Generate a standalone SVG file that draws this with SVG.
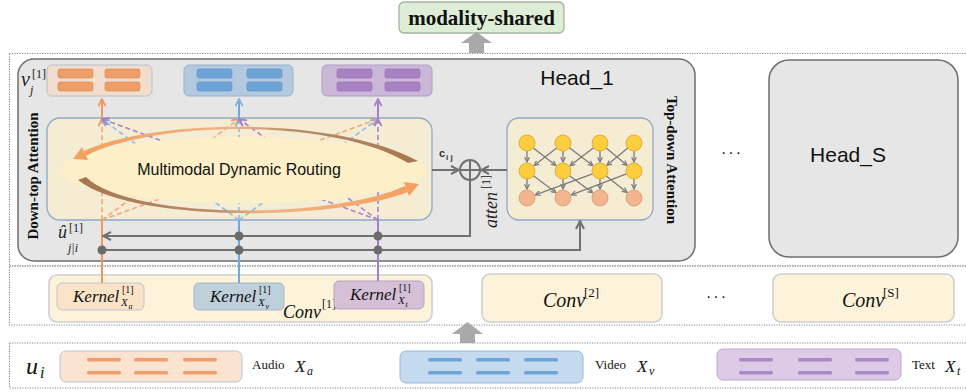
<svg xmlns="http://www.w3.org/2000/svg" width="966" height="392" viewBox="0 0 966 392">
<defs>
<style>
.frame{fill:none;stroke:#8a8a8a;stroke-width:1.2;stroke-dasharray:1.2 1.3}
.head{fill:#e6e6e6;stroke:#6e6e6e;stroke-width:1.5}
.panel{fill:#f5ecd4;stroke:#8fa9c6;stroke-width:1.3}
.conv{fill:#fdf3da;stroke:#cfcfcf;stroke-width:1.6}
.sans{font-family:"Liberation Sans",Arial,sans-serif}
.serif{font-family:"Liberation Serif","Times New Roman",serif}
.math{font-family:"Liberation Serif","Times New Roman",serif;font-style:italic}
.wire{fill:none;stroke:#717171;stroke-width:2}
.hub{fill:#6b6b6b}
.bigarrow{fill:#a9a9a9}
.o-solid{stroke:#ee9a5e;stroke-width:2;fill:none}
.b-solid{stroke:#6ea8dc;stroke-width:2;fill:none}
.p-solid{stroke:#a57fcb;stroke-width:2;fill:none}
.o-dash{stroke:#f2a877;stroke-width:1.6;stroke-dasharray:5 3;fill:none}
.b-dash{stroke:#8dbde6;stroke-width:1.6;stroke-dasharray:5 3;fill:none}
.p-dash{stroke:#a783d0;stroke-width:1.6;stroke-dasharray:5 3;fill:none}
.net{stroke:#7b7b7b;stroke-width:1.3;fill:none}
.n-y{fill:#fccd3e;stroke:#d8a52a;stroke-width:0.8}
.n-p{fill:#f3b58d;stroke:#d29872;stroke-width:0.8}
.bar-o{fill:#ee9f67;stroke:#c98b5e;stroke-width:0.6}
.bar-b{fill:#6fa4d8;stroke:#5d8fc0;stroke-width:0.6}
.bar-p{fill:#a882c4;stroke:#8f6aaf;stroke-width:0.6}
</style>
<marker id="ah-gray" viewBox="0 0 10 10" refX="9" refY="5" markerWidth="10" markerHeight="10" markerUnits="userSpaceOnUse" orient="auto">
  <path d="M1,1 L9,5 L1,9" fill="none" stroke="#717171" stroke-width="2"/>
</marker>
<marker id="ah-net" viewBox="0 0 10 10" refX="9" refY="5" markerWidth="6" markerHeight="6" markerUnits="userSpaceOnUse" orient="auto">
  <path d="M1,1 L9,5 L1,9" fill="none" stroke="#7b7b7b" stroke-width="2"/>
</marker>
<marker id="ah-o" viewBox="0 0 10 10" refX="9" refY="5" markerWidth="9" markerHeight="9" markerUnits="userSpaceOnUse" orient="auto">
  <path d="M1,1 L9,5 L1,9" fill="none" stroke="#ee9a5e" stroke-width="2"/>
</marker>
<marker id="ah-b" viewBox="0 0 10 10" refX="9" refY="5" markerWidth="9" markerHeight="9" markerUnits="userSpaceOnUse" orient="auto">
  <path d="M1,1 L9,5 L1,9" fill="none" stroke="#7fb3e2" stroke-width="2"/>
</marker>
<marker id="ah-p" viewBox="0 0 10 10" refX="9" refY="5" markerWidth="9" markerHeight="9" markerUnits="userSpaceOnUse" orient="auto">
  <path d="M1,1 L9,5 L1,9" fill="none" stroke="#a57fcb" stroke-width="2"/>
</marker>
<linearGradient id="arc-top" gradientUnits="userSpaceOnUse" x1="80" y1="0" x2="420" y2="0">
  <stop offset="0" stop-color="#f2a15e"/><stop offset="0.45" stop-color="#f0b386"/>
  <stop offset="0.62" stop-color="#b98e6a"/><stop offset="1" stop-color="#a5774f"/>
</linearGradient>
<linearGradient id="arc-bot" gradientUnits="userSpaceOnUse" x1="80" y1="0" x2="420" y2="0">
  <stop offset="0" stop-color="#a5774f"/><stop offset="0.4" stop-color="#b98e6a"/>
  <stop offset="0.55" stop-color="#f0b386"/><stop offset="1" stop-color="#f2a15e"/>
</linearGradient>
</defs>

<!-- dotted section frames -->
<g id="frames">
  <rect class="frame" x="9.5" y="53.5" width="962" height="212.5"/>
  <rect class="frame" x="9.5" y="266" width="962" height="59"/>
  <rect class="frame" x="9.5" y="343" width="962" height="45"/>
</g>

<!-- output -->
<g id="modality-shared">
  <rect x="399" y="2" width="165" height="31" rx="5" fill="#deedd6" stroke="#a3b39d" stroke-width="1.3"/>
  <text class="serif" x="481.5" y="25" font-size="21" font-weight="bold" text-anchor="middle" fill="#111">modality-shared</text>
</g>

<!-- attention head 1 -->
<g id="head-1">
  <rect class="head" x="18" y="59" width="677" height="202" rx="16"/>
  <text class="sans" x="577" y="85" font-size="21" text-anchor="middle" fill="#111">Head_1</text>
  <text class="serif" transform="translate(38,176) rotate(-90)" font-size="15" font-weight="bold" text-anchor="middle" fill="#111">Down-top Attention</text>
  <text class="serif" transform="translate(667,160) rotate(90)" font-size="15" font-weight="bold" text-anchor="middle" fill="#111">Top-down Attention</text>
  <!-- v_j^[1] label -->
  <text class="math" x="21" y="86" font-size="20" fill="#222">v</text>
  <text class="serif" x="32" y="78" font-size="12" fill="#222">[1]</text>
  <text class="math" x="30" y="94" font-size="12" fill="#222">j</text>
  <!-- u-hat label -->
  <text class="math" x="58" y="238" font-size="18" fill="#222">û</text>
  <text class="serif" x="69" y="232" font-size="12" fill="#222">[1]</text>
  <text class="math" x="68" y="252" font-size="12" fill="#222">j|i</text>
</g>

<g id="v-audio">
  <rect x="47" y="65" width="105" height="31" rx="5" fill="#f2ddcc" stroke="#b5c0cf" stroke-width="1"/>
  <rect class="bar-o" x="58" y="69" width="35" height="9" rx="2"/>
  <rect class="bar-o" x="105" y="69" width="35" height="9" rx="2"/>
  <rect class="bar-o" x="58" y="82" width="35" height="9" rx="2"/>
  <rect class="bar-o" x="105" y="82" width="35" height="9" rx="2"/>
</g>
<g id="v-video">
  <rect x="184" y="65" width="109" height="31" rx="5" fill="#b3c9e0" stroke="#98b3d0" stroke-width="1"/>
  <rect class="bar-b" x="197" y="69" width="35" height="9" rx="2"/>
  <rect class="bar-b" x="247" y="69" width="35" height="9" rx="2"/>
  <rect class="bar-b" x="197" y="82" width="35" height="9" rx="2"/>
  <rect class="bar-b" x="247" y="82" width="35" height="9" rx="2"/>
</g>
<g id="v-text">
  <rect x="322" y="65" width="110" height="31" rx="5" fill="#cbb8d9" stroke="#ae9cc6" stroke-width="1"/>
  <rect class="bar-p" x="337" y="69" width="35" height="9" rx="2"/>
  <rect class="bar-p" x="385" y="69" width="35" height="9" rx="2"/>
  <rect class="bar-p" x="337" y="82" width="35" height="9" rx="2"/>
  <rect class="bar-p" x="385" y="82" width="35" height="9" rx="2"/>
</g>

<!-- multimodal dynamic routing block -->
<g id="routing">
  <rect class="panel" x="47" y="118" width="385" height="102" rx="13"/>
  <g id="routing-paths">
    <path class="o-dash" d="M102,220 V119" marker-end="url(#ah-o)"/>
    <path class="o-dash" d="M102,220 L239,119" marker-end="url(#ah-o)"/>
    <path class="o-dash" d="M102,220 L378,119" marker-end="url(#ah-o)"/>
    <path class="b-dash" d="M239,220 L102,119" marker-end="url(#ah-b)"/>
    <path class="b-dash" d="M239,220 V119" marker-end="url(#ah-b)"/>
    <path class="b-dash" d="M239,220 L378,119" marker-end="url(#ah-b)"/>
    <path class="p-dash" d="M378,220 L102,119" marker-end="url(#ah-p)"/>
    <path class="p-dash" d="M378,220 L239,119" marker-end="url(#ah-p)"/>
    <path class="p-dash" d="M378,220 V119" marker-end="url(#ah-p)"/>
  </g>
  <ellipse cx="243" cy="170" rx="183" ry="33" fill="#fdf0c9"/>
  <path d="M84,151 C150,120 330,114 418,161 L408,163 C330,116 150,122 86,156 Z" fill="url(#arc-top)"/>
  <polygon points="73,159 88,160 82,147" fill="#f2a15e"/>
  <path d="M78,180 C130,222 330,222 408,192 L405,186 C330,220 130,220 86,177 Z" fill="url(#arc-bot)"/>
  <polygon points="419,184 409,196 404,182" fill="#f2a15e"/>
  <text class="sans" x="239" y="175" font-size="16" text-anchor="middle" fill="#111">Multimodal Dynamic Routing</text>
</g>

<!-- top-down attention network -->
<g id="top-down">
  <rect class="panel" x="507" y="118" width="146" height="102" rx="12" fill="#f5eed9"/>
  <g id="net-edges">
    <path class="net" d="M527,151 V162" marker-end="url(#ah-net)"/>
    <path class="net" d="M563,151 V162" marker-end="url(#ah-net)"/>
    <path class="net" d="M600,151 V162" marker-end="url(#ah-net)"/>
    <path class="net" d="M634,151 V162" marker-end="url(#ah-net)"/>
    <path class="net" d="M533.3,147.9 L555.9,165.5" marker-end="url(#ah-net)"/>
    <path class="net" d="M556.7,147.9 L534.1,165.5" marker-end="url(#ah-net)"/>
    <path class="net" d="M569.4,147.8 L592.8,165.6" marker-end="url(#ah-net)"/>
    <path class="net" d="M593.6,147.8 L570.2,165.6" marker-end="url(#ah-net)"/>
    <path class="net" d="M606.2,148.1 L627.1,165.3" marker-end="url(#ah-net)"/>
    <path class="net" d="M627.8,148.1 L606.9,165.3" marker-end="url(#ah-net)"/>
    <path class="net" d="M527,179 V189" marker-end="url(#ah-net)"/>
    <path class="net" d="M563,179 V189" marker-end="url(#ah-net)"/>
    <path class="net" d="M600,179 V189" marker-end="url(#ah-net)"/>
    <path class="net" d="M634,179 V189" marker-end="url(#ah-net)"/>
    <path class="net" d="M533.4,175.8 L555.8,192.6" marker-end="url(#ah-net)"/>
    <path class="net" d="M569.5,175.7 L592.7,192.7" marker-end="url(#ah-net)"/>
    <path class="net" d="M592.5,173.8 L535.4,194.9" marker-end="url(#ah-net)"/>
    <path class="net" d="M606.3,176 L627,192.4" marker-end="url(#ah-net)"/>
    <path class="net" d="M626.5,173.8 L571.4,194.8" marker-end="url(#ah-net)"/>
  </g>
  <circle class="n-y" cx="527" cy="143" r="8"/><circle class="n-y" cx="563" cy="143" r="8"/>
  <circle class="n-y" cx="600" cy="143" r="8"/><circle class="n-y" cx="634" cy="143" r="8"/>
  <circle class="n-y" cx="527" cy="171" r="8"/><circle class="n-y" cx="563" cy="171" r="8"/>
  <circle class="n-y" cx="600" cy="171" r="8"/><circle class="n-y" cx="634" cy="171" r="8"/>
  <circle class="n-p" cx="527" cy="198" r="8"/><circle class="n-p" cx="563" cy="198" r="8"/>
  <circle class="n-p" cx="600" cy="198" r="8"/><circle class="n-p" cx="634" cy="198" r="8"/>
  <g transform="translate(497,228) rotate(-90)">
    <text class="math" x="0" y="0" font-size="18" fill="#222">atten</text>
    <text class="serif" x="39" y="-7" font-size="12" fill="#222">[1]</text>
  </g>
</g>

<!-- summation node -->
<g id="sum">
  <circle cx="470" cy="170" r="10" fill="none" stroke="#717171" stroke-width="2"/>
  <path d="M460,170 H480 M470,160 V180" stroke="#717171" stroke-width="2"/>
  <text class="sans" x="439" y="157" font-size="11" font-weight="bold" fill="#333">c</text>
  <text class="sans" x="446" y="160" font-size="8" font-weight="bold" fill="#333">i j</text>
</g>

<!-- further heads -->
<g id="head-s">
  <rect class="head" x="769" y="60" width="189" height="197" rx="20"/>
  <text class="sans" x="848" y="162" font-size="21" text-anchor="middle" fill="#111">Head_S</text>
</g>
<text class="sans" x="732" y="158" font-size="16" text-anchor="middle" letter-spacing="2" fill="#111">···</text>

<!-- convolution layers -->
<g id="conv-1">
  <rect class="conv" x="49" y="275" width="383" height="47" rx="8"/>
  <text class="math" x="283" y="318" font-size="18" fill="#111">Conv</text>
  <text class="serif" x="322" y="308" font-size="12" fill="#111">[1]</text>
</g>
<g id="kernel-xa">
  <rect x="57" y="283" width="87" height="27" rx="5" fill="#fbe3c8" stroke="#b9c6d6" stroke-width="1"/>
  <text class="math" x="73" y="302" font-size="17" fill="#111">Kernel</text>
  <text class="serif" x="122" y="293" font-size="10" fill="#111">[1]</text>
  <text class="math" x="121" y="306" font-size="11" fill="#111">X</text>
  <text class="math" x="128.5" y="308.5" font-size="8" fill="#111">a</text>
</g>
<g id="kernel-xv">
  <rect x="194" y="283" width="90" height="27" rx="5" fill="#bfd0da" stroke="#9fb8cc" stroke-width="1"/>
  <text class="math" x="210" y="302" font-size="17" fill="#111">Kernel</text>
  <text class="serif" x="259" y="293" font-size="10" fill="#111">[1]</text>
  <text class="math" x="258" y="306" font-size="11" fill="#111">X</text>
  <text class="math" x="265.5" y="308.5" font-size="8" fill="#111">v</text>
</g>
<g id="kernel-xt">
  <rect x="334" y="281" width="90" height="28" rx="5" fill="#d6c0d8" stroke="#b3a3c4" stroke-width="1"/>
  <text class="math" x="350" y="300" font-size="17" fill="#111">Kernel</text>
  <text class="serif" x="399" y="291" font-size="10" fill="#111">[1]</text>
  <text class="math" x="398" y="304" font-size="11" fill="#111">X</text>
  <text class="math" x="405.5" y="306.5" font-size="8" fill="#111">t</text>
</g>
<g id="conv-2">
  <rect class="conv" x="482" y="274" width="180" height="48" rx="8"/>
  <text class="math" x="543" y="307" font-size="20" fill="#111">Conv</text>
  <text class="serif" x="584" y="297" font-size="13" fill="#111">[2]</text>
</g>
<text class="sans" x="717" y="302" font-size="16" text-anchor="middle" letter-spacing="2" fill="#111">···</text>
<g id="conv-s">
  <rect class="conv" x="773" y="274" width="181" height="48" rx="8"/>
  <text class="math" x="842" y="307" font-size="20" fill="#111">Conv</text>
  <text class="serif" x="883" y="297" font-size="13" fill="#111">[S]</text>
</g>

<!-- inputs -->
<g id="input-u">
  <text class="math" x="26" y="374" font-size="24" fill="#111">u</text>
  <text class="math" x="40" y="378" font-size="16" fill="#111">i</text>
</g>
<g id="input-audio">
  <rect x="60" y="351" width="182" height="31" rx="6" fill="#fae3d1" stroke="#b8c3d3" stroke-width="1"/>
  <rect x="87" y="358" width="34" height="3.5" rx="1.5" fill="#eea06c"/>
  <rect x="134" y="358" width="34" height="3.5" rx="1.5" fill="#eea06c"/>
  <rect x="183" y="358" width="34" height="3.5" rx="1.5" fill="#eea06c"/>
  <rect x="87" y="371" width="34" height="3.5" rx="1.5" fill="#eea06c"/>
  <rect x="134" y="371" width="34" height="3.5" rx="1.5" fill="#eea06c"/>
  <rect x="183" y="371" width="34" height="3.5" rx="1.5" fill="#eea06c"/>
  <text class="serif" x="252" y="369" font-size="13" fill="#111">Audio</text>
  <text class="math" x="295" y="372" font-size="17" fill="#111">X</text>
  <text class="math" x="307" y="375" font-size="12" fill="#111">a</text>
</g>
<g id="input-video">
  <rect x="400" y="351" width="183" height="32" rx="6" fill="#c4daef" stroke="#9cb9d8" stroke-width="1"/>
  <rect x="428" y="358" width="34" height="3.5" rx="1.5" fill="#6ea3d8"/>
  <rect x="476" y="358" width="34" height="3.5" rx="1.5" fill="#6ea3d8"/>
  <rect x="524" y="358" width="34" height="3.5" rx="1.5" fill="#6ea3d8"/>
  <rect x="428" y="371" width="34" height="3.5" rx="1.5" fill="#6ea3d8"/>
  <rect x="476" y="371" width="34" height="3.5" rx="1.5" fill="#6ea3d8"/>
  <rect x="524" y="371" width="34" height="3.5" rx="1.5" fill="#6ea3d8"/>
  <text class="serif" x="595" y="369" font-size="13" fill="#111">Video</text>
  <text class="math" x="637" y="372" font-size="17" fill="#111">X</text>
  <text class="math" x="649" y="375" font-size="12" fill="#111">v</text>
</g>
<g id="input-text">
  <rect x="717" y="349" width="184" height="31" rx="6" fill="#ddcae7" stroke="#baa8cc" stroke-width="1"/>
  <rect x="739" y="358" width="34" height="3.5" rx="1.5" fill="#a98ac6"/>
  <rect x="798" y="358" width="34" height="3.5" rx="1.5" fill="#a98ac6"/>
  <rect x="855" y="358" width="34" height="3.5" rx="1.5" fill="#a98ac6"/>
  <rect x="739" y="371" width="34" height="3.5" rx="1.5" fill="#a98ac6"/>
  <rect x="798" y="371" width="34" height="3.5" rx="1.5" fill="#a98ac6"/>
  <rect x="855" y="371" width="34" height="3.5" rx="1.5" fill="#a98ac6"/>
  <text class="serif" x="912" y="369" font-size="13" fill="#111">Text</text>
  <text class="math" x="945" y="372" font-size="17" fill="#111">X</text>
  <text class="math" x="957" y="375" font-size="12" fill="#111">t</text>
</g>

<!-- connectors -->
<g id="connectors">
  <polygon class="bigarrow" points="469,53 469,43 461,43 476.5,32 492,43 484,43 484,53"/>
  <polygon class="bigarrow" points="460,343 460,334 452,334 467.5,322 483,334 475,334 475,343"/>
  <path class="o-solid" d="M102,283 V220"/>
  <path class="b-solid" d="M239,283 V220"/>
  <path class="p-solid" d="M378,281 V220"/>
  <path class="o-solid" d="M102,118 V99" marker-end="url(#ah-o)"/>
  <path class="b-solid" d="M239,118 V99" marker-end="url(#ah-b)"/>
  <path class="p-solid" d="M378,118 V99" marker-end="url(#ah-p)"/>
  <path class="wire" d="M432,170 H459" marker-end="url(#ah-gray)"/>
  <path class="wire" d="M507,170 H481" marker-end="url(#ah-gray)"/>
  <path class="wire" d="M470,180 V236 H103" marker-end="url(#ah-gray)"/>
  <path class="wire" d="M102,250 H580 V221" marker-end="url(#ah-gray)"/>
  <circle class="hub" cx="239" cy="236" r="4.5"/>
  <circle class="hub" cx="378" cy="236" r="4.5"/>
  <circle class="hub" cx="102" cy="250" r="4.5"/>
  <circle class="hub" cx="239" cy="250" r="4.5"/>
  <circle class="hub" cx="378" cy="250" r="4.5"/>
</g>
</svg>
